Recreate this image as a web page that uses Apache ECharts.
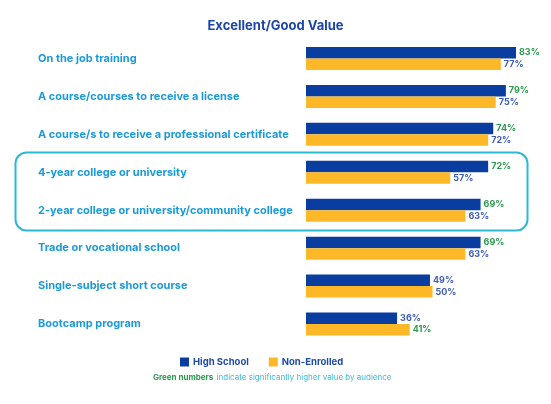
<!DOCTYPE html>
<html>
<head>
<meta charset="utf-8">
<script src="https://cdn.jsdelivr.net/npm/echarts@6/dist/echarts.min.js"></script>
<style>html,body{margin:0;padding:0;background:#fff}#c{width:551px;height:404px}</style>
</head>
<body>
<div id="c"></div>
<script>
const categories = [
  "On the job training",
  "A course/courses to receive a license",
  "A course/s to receive a professional certificate",
  "4-year college or university",
  "2-year college or university/community college",
  "Trade or vocational school",
  "Single-subject short course",
  "Bootcamp program"
];
const highSchool = [83, 79, 74, 72, 69, 69, 49, 36];
const nonEnrolled = [77, 75, 72, 57, 63, 63, 50, 41];
const highSchoolSignificant = [true, true, true, true, true, true, false, false];
const nonEnrolledSignificant = [false, false, false, false, false, false, false, true];
const seriesNames = ["High School", "Non-Enrolled"];

const chart = echarts.init(document.getElementById('c'));
function lbl(sig) {
  return {
    show: true, position: 'right', distance: 3,
    formatter: p => '{' + (sig[p.dataIndex] ? 'g' : 'b') + '|' + p.value + '%}',
    rich: {
      g: { color: '#2a9a4c', fontSize: 9, fontWeight: 'bold', fontFamily: 'Inter' },
      b: { color: '#3d5cb8', fontSize: 9, fontWeight: 'bold', fontFamily: 'Inter' }
    }
  };
}
chart.setOption({
  animation: false,
  title: {
    text: 'Excellent/Good Value', left: 'center', top: 15,
    textStyle: { color: '#1e45a8', fontSize: 13, fontWeight: 'bold', fontFamily: 'Inter' }
  },
  legend: {
    data: seriesNames, left: 175, top: 352, itemWidth: 9, itemHeight: 9, itemGap: 20,
    icon: 'rect',
    textStyle: { color: '#1e4aa8', fontSize: 9.5, fontWeight: 'bold', fontFamily: 'Inter', padding: [0,0,0,-1] }
  },
  grid: { left: 306, top: 39.5, width: 227.7, height: 303.5 },
  xAxis: { type: 'value', min: 0, max: 90, show: false },
  yAxis: {
    type: 'category', data: categories, inverse: true,
    axisLine: { show: false }, axisTick: { show: false },
    axisLabel: { align: 'left', margin: 268, color: '#1b9ad8', fontSize: 11, fontWeight: 'bold', fontFamily: 'Inter', padding: [2, 0, 0, 0] }
  },
  series: [
    { name: seriesNames[0], type: 'bar', data: highSchool, barWidth: 11.5, barGap: '0%',
      itemStyle: { color: '#0a3da0' }, label: lbl(highSchoolSignificant) },
    { name: seriesNames[1], type: 'bar', data: nonEnrolled, barWidth: 11.5,
      itemStyle: { color: '#fdb827' }, label: lbl(nonEnrolledSignificant) }
  ],
  graphic: [
    { type: 'rect', shape: { x: 15.5, y: 152.5, width: 512, height: 78, r: 11 },
      style: { fill: 'none', stroke: '#2bbad3', lineWidth: 2 }, z: 10 },
    { type: 'text', left: 153, top: 372,
      style: { rich: { g: { fill: '#2a9a4c', fontWeight: 'bold', fontSize: 8, fontFamily: 'Inter' },
                       c: { fill: '#38bcd8', fontSize: 8, fontFamily: 'Inter' } },
               text: '{g|Green numbers} {c|indicate significantly higher value by audience}' } }
  ]
});
</script>
</body>
</html>
